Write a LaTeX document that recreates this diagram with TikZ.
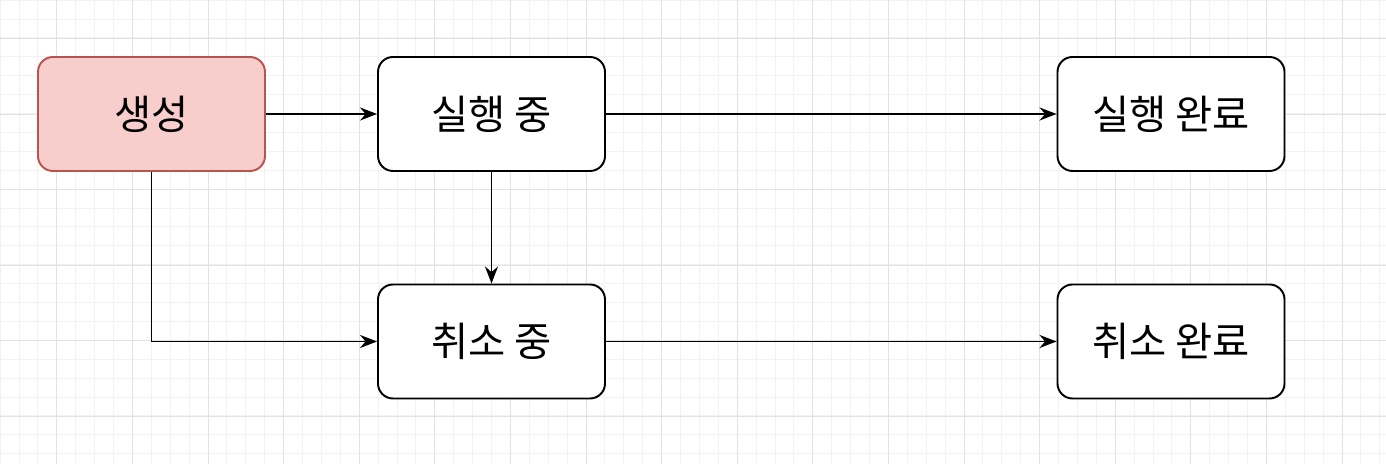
\documentclass[tikz,border=0pt]{standalone}
\usepackage{fontspec}
\newfontfamily\kr{Noto Sans CJK KR}
\usepackage{xcolor}
\usepackage{tikz}
\usetikzlibrary{arrows.meta}
\definecolor{redfill}{HTML}{F8CECC}
\definecolor{redline}{HTML}{B85450}
\definecolor{gridminor}{HTML}{F2F2F2}
\definecolor{gridmajor}{HTML}{E2E2E2}

\begin{document}
\begin{tikzpicture}[
  every node/.style={align=center, font=\kr\fontsize{23}{27}\selectfont},
  box/.style={draw, line width=1.1pt, rounded corners=0.3cm, minimum width=4.54cm, minimum height=2.28cm, fill=white},
  link/.style={draw, line width=1.1pt, -{Stealth[length=0.34cm, width=0.26cm]}}
]
\useasboundingbox (0,0) rectangle (27.72,9.28);
\fill[white] (0,0) rectangle (27.72,9.28);
% grid
\begin{scope}[shift={(0,9.28)}]
\draw[gridminor, line width=0.4pt] (0,-9.28) grid[step=0.378] (27.72,0);
\end{scope}
\begin{scope}[shift={(1.134,7.0)}]
\draw[gridmajor, line width=0.4pt] (-1.134,-7.0) grid[step=1.512] (26.586,2.28);
\end{scope}
% states
\node[box, fill=redfill, draw=redline] (create) at (3.03,7.0) {생성};
\node[box] (running) at (9.83,7.0) {실행 중};
\node[box] (done) at (23.42,7.0) {실행 완료};
\node[box] (cancelling) at (9.83,2.45) {취소 중};
\node[box] (cancelled) at (23.42,2.45) {취소 완료};
% transitions
\draw[link] (create) -- (running);
\draw[link] (running) -- (done);
\draw[link] (running) -- (cancelling);
\draw[link] (create.south) |- (cancelling.west);
\draw[link] (cancelling) -- (cancelled);
\end{tikzpicture}
\end{document}
